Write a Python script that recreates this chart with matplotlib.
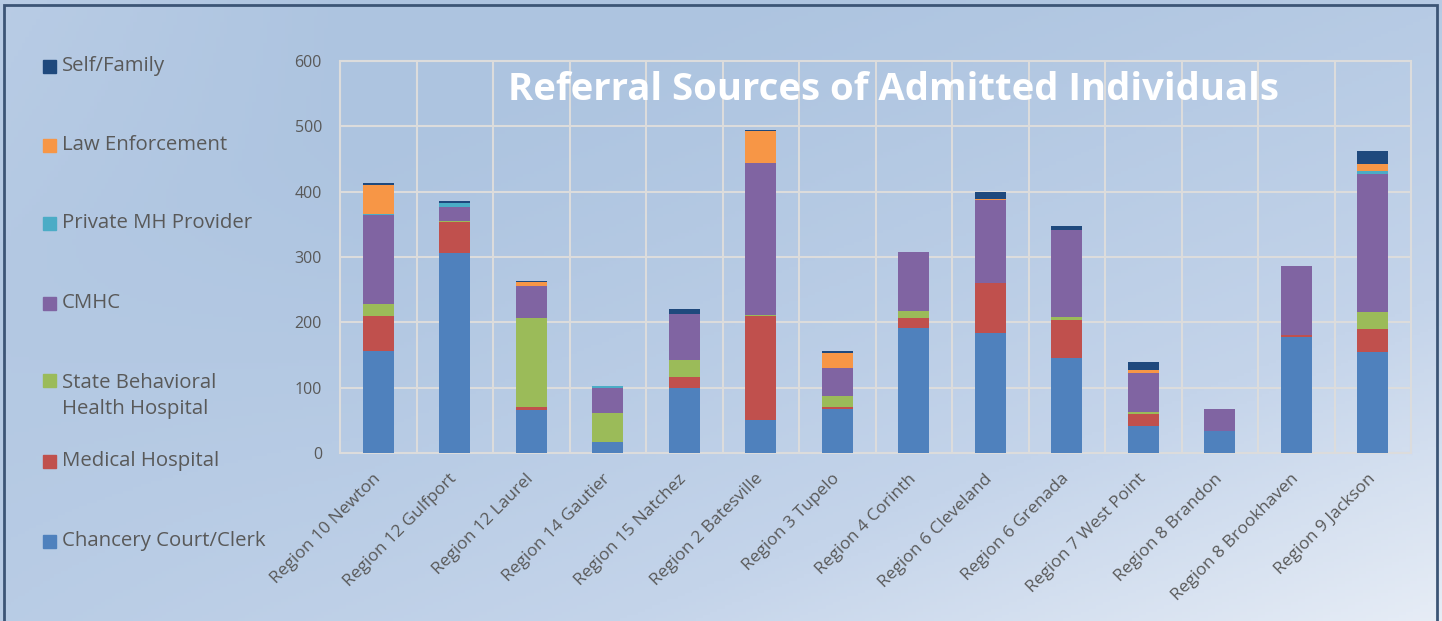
import numpy as np
import matplotlib.pyplot as plt
from matplotlib.colors import LinearSegmentedColormap
from matplotlib.patches import Rectangle

plt.rcParams['font.family'] = ['Open Sans', 'DejaVu Sans']

regions = ['Region 10 Newton', 'Region 12 Gulfport', 'Region 12 Laurel', 'Region 14 Gautier',
           'Region 15 Natchez', 'Region 2 Batesville', 'Region 3 Tupelo', 'Region 4 Corinth',
           'Region 6 Cleveland', 'Region 6 Grenada', 'Region 7 West Point', 'Region 8 Brandon',
           'Region 8 Brookhaven', 'Region 9 Jackson']

chancery = [156, 306, 66, 17, 100, 50, 67, 191, 183, 146, 42, 33, 177, 154]
medical = [54, 48, 4, 0, 17, 160, 4, 16, 77, 57, 17, 0, 3, 36]
state_bh = [18, 1, 137, 44, 26, 1, 16, 10, 0, 5, 3, 0, 1, 26]
cmhc = [136, 21, 48, 39, 69, 233, 43, 91, 128, 133, 61, 34, 105, 211]
private_mh = [2, 6, 1, 2, 0, 0, 0, 0, 0, 0, 0, 0, 0, 5]
law = [44, 0, 5, 0, 1, 49, 23, 0, 1, 0, 4, 0, 0, 10]
self_family = [3, 4, 3, 0, 7, 2, 3, 0, 11, 7, 12, 0, 0, 21]

series = [('Chancery Court/Clerk', chancery, '#4f81bd'),
          ('Medical Hospital', medical, '#c0504d'),
          ('State Behavioral\nHealth Hospital', state_bh, '#9bbb59'),
          ('CMHC', cmhc, '#8064a2'),
          ('Private MH Provider', private_mh, '#4bacc6'),
          ('Law Enforcement', law, '#f79646'),
          ('Self/Family', self_family, '#1f497d')]

fig = plt.figure(figsize=(14.42, 6.21), dpi=100)

# gradient background
bg = fig.add_axes([0, 0, 1, 1], zorder=-10)
xx, yy = np.meshgrid(np.linspace(0, 1, 400), np.linspace(0, 1, 200))
t = np.clip(0.55 * xx + 0.6 * yy - 0.25, 0, 1) ** 1.3
t = t + 0.25 * np.clip(0.25 - xx, 0, 1) * 4 * (1 - yy)
cmap = LinearSegmentedColormap.from_list('bgc', ['#adc4e0', '#c4d4ea', '#f2f5fa'])
bg.imshow(t, cmap=cmap, aspect='auto', extent=[0, 1, 0, 1], origin='upper', vmin=0, vmax=1)
bg.set_axis_off()
bg.add_patch(Rectangle((4 / 1442, -0.05), 1 - 9 / 1442, 1.05 - 5 / 621, transform=bg.transAxes,
                       fill=False, edgecolor='#3c5576', linewidth=2))

ax = fig.add_axes([340 / 1442, 168 / 621, 1071 / 1442, 392 / 621])
ax.patch.set_alpha(0)
x = np.arange(len(regions))
bottom = np.zeros(len(regions))
for name, vals, col in series:
    ax.bar(x, vals, 0.4, bottom=bottom, color=col, zorder=3)
    bottom += np.array(vals)

ax.set_xlim(-0.5, len(regions) - 0.5)
ax.set_ylim(0, 600)
ax.set_yticks(range(0, 601, 100))
ax.set_xticks(x)
ax.set_xticklabels(regions, rotation=45, ha='right', va='center', rotation_mode='anchor',
                   fontsize=12.5, color='#595959')
ax.tick_params(axis='y', labelsize=11.5, labelcolor='#595959', length=0, pad=13)
ax.tick_params(axis='x', length=0, pad=17)
ax.set_xticks(np.arange(-0.5, len(regions), 1), minor=True)
ax.tick_params(axis='x', which='minor', length=0)
ax.grid(True, which='major', axis='y', color='#dcdcdc', linewidth=1.5, zorder=0)
ax.grid(True, which='minor', axis='x', color='#dcdcdc', linewidth=1.5, zorder=0)
for s in ax.spines.values():
    s.set_color('#dcdcdc')
    s.set_linewidth(1.5)

ax.text(0.517, 0.927, 'Referral Sources of Admitted Individuals', transform=ax.transAxes,
        ha='center', va='center', fontsize=27.5, fontweight='bold', color='white')

# legend on the left
leg_y = [541, 461, 396, 303, 223, 145, 66]
for (name, vals, col), yp in zip(series, leg_y):
    yf = 1 - yp / 621
    sq_y = yf - 7 / 621
    if '\n' in name:
        sq_y = 1 - 387 / 621
    fig.patches.append(Rectangle((43 / 1442, sq_y), 13 / 1442, 13 / 621,
                                 transform=fig.transFigure, color=col))
    fig.text(62 / 1442, yf, name, ha='left', va='center', fontsize=14.7, color='#595959',
             linespacing=1.35)

fig.savefig('out.png', dpi=100)
